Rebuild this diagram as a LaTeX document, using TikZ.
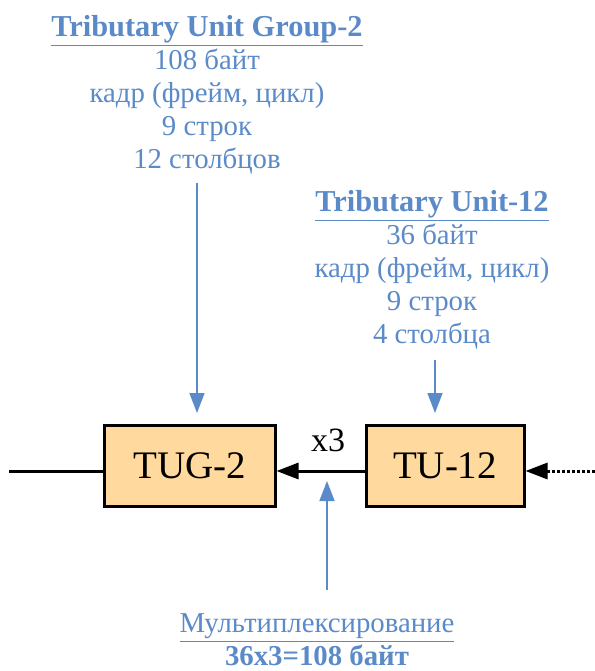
\documentclass[tikz,border=0pt]{standalone}
\usepackage{fontspec}
\setmainfont{Liberation Serif}
\usetikzlibrary{arrows.meta,positioning}
\definecolor{note}{HTML}{5B8AC8}
\definecolor{unitfill}{HTML}{FFD99E}
\newcommand{\headline}[1]{{\fontsize{15.2}{16.5}\selectfont\underline{\textbf{#1}}}}
\tikzset{
  unit/.style={draw=black,fill=unitfill,line width=1.5pt,minimum width=#1,minimum height=40.5pt,inner sep=0pt,font=\fontsize{19.5}{22}\selectfont},
  caption/.style={text=note,align=center,inner sep=0pt,font=\fontsize{14.4}{16.5}\selectfont},
  feed/.style={-{Triangle[length=11pt,width=8pt]},line width=1.5pt},
  pointer/.style={-{Triangle[length=10pt,width=7.5pt]},line width=0.75pt,draw=note}
}

\begin{document}
\begin{tikzpicture}[x=0.5pt,y=-0.5pt]
  \useasboundingbox (0,0) rectangle (595,671);
  \node[unit=85.5pt] (tug) at (189.5,465.5) {TUG-2};
  \node[unit=79pt,right=44pt of tug] (tu) {TU-12};
  \coordinate (lane) at (0,471);
  \coordinate (west) at (9,471);
  \coordinate (east) at (595,471);
  \coordinate (mux) at (327,481);

  \node[caption,anchor=north] (tuginfo) at (207,15) {\headline{Tributary Unit Group-2}\\108 байт\\кадр (фрейм, цикл)\\9 строк\\12 столбцов};
  \node[caption,anchor=north] (tuinfo) at (432,190) {\headline{Tributary Unit-12}\\36 байт\\кадр (фрейм, цикл)\\9 строк\\4 столбца};
  \node[caption,anchor=base] (muxinfo) at (317,665) {\underline{Мультиплексирование}\\\textbf{36x3=108 байт}};
  \node[font=\fontsize{17}{19}\selectfont,inner sep=0pt] (times) at (328,440) {x3};

  % main chain
  \draw[line width=1.5pt] (west) -- (tug.west |- lane);
  \draw[feed] (tu.west |- lane) -- (tug.east |- lane);
  \draw[feed,dash pattern=on 1.5pt off 1pt] (east) -- (tu.east |- lane);

  % notes
  \draw[pointer] (197,183) -- (197,413);
  \draw[pointer] (435,360) -- (435,413);
  \draw[pointer] (327,590) -- (mux);
\end{tikzpicture}
\end{document}
